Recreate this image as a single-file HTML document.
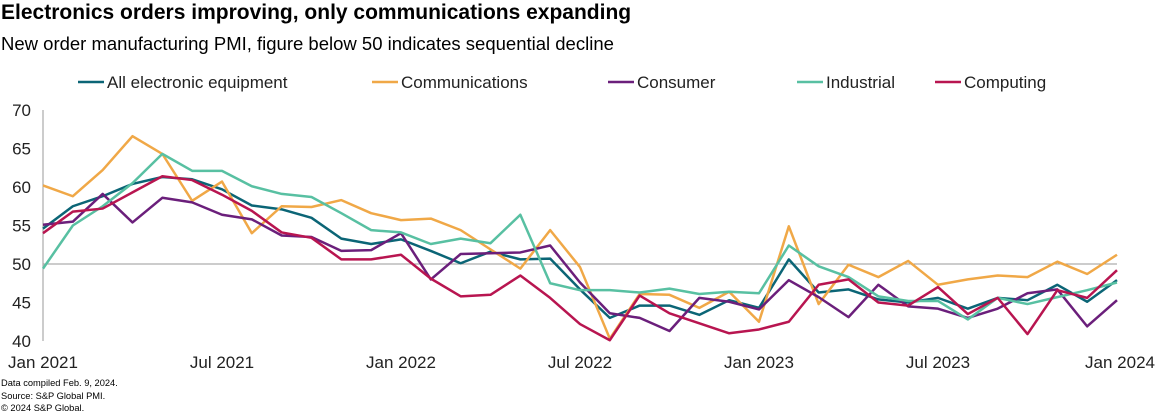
<!DOCTYPE html>
<html><head><meta charset="utf-8"><style>
body{margin:0;background:#fff;font-family:"Liberation Sans",Arial,sans-serif;}
#wrap{position:relative;width:1162px;height:417px;overflow:hidden;}
.t{position:absolute;white-space:nowrap;color:#000;}
</style></head><body>
<div id="wrap">
<div class="t" style="left:1px;top:1px;font-size:21px;font-weight:bold;">Electronics orders improving, only communications expanding</div>
<div class="t" style="left:1px;top:33px;font-size:18.5px;">New order manufacturing PMI, figure below 50 indicates sequential decline</div>
<svg id="svg" width="1162" height="417" style="position:absolute;left:0;top:0"></svg>
<div class="t" style="left:1px;top:378px;font-size:9.3px;">Data compiled Feb. 9, 2024.</div>
<div class="t" style="left:1px;top:391px;font-size:9.3px;">Source: S&amp;P Global PMI.</div>
<div class="t" style="left:1px;top:403px;font-size:9.3px;">© 2024 S&amp;P Global.</div>
</div>
<script>
const xTickLabels=["Jan 2021","Jul 2021","Jan 2022","Jul 2022","Jan 2023","Jul 2023","Jan 2024"];
const xTickMonths=[0,6,12,18,24,30,36];
const yTicks=[40,45,50,55,60,65,70];
const seriesNames=["All electronic equipment","Communications","Consumer","Industrial","Computing"];
const seriesColors=["#0b6576","#f0a847","#6b1f7b","#58c0a2","#b81550"];
const allElectronic=[54.6,57.5,58.8,60.4,61.3,61.0,59.7,57.6,57.1,56.0,53.3,52.6,53.2,51.7,50.1,51.6,50.6,50.7,46.7,43.0,44.6,44.6,43.4,45.3,44.3,50.6,46.3,46.7,45.4,45.0,45.6,44.2,45.6,45.3,47.3,45.1,47.9];
const communications=[60.2,58.8,62.2,66.6,64.3,58.2,60.7,54.0,57.5,57.4,58.3,56.6,55.7,55.9,54.4,51.9,49.4,54.4,49.6,40.3,46.1,46.0,44.3,46.4,42.5,54.9,44.8,49.9,48.3,50.4,47.3,48.0,48.5,48.3,50.3,48.7,51.2];
const consumer=[55.1,55.5,59.1,55.4,58.6,58.0,56.4,55.8,53.7,53.5,51.7,51.8,54.0,48.0,51.3,51.4,51.5,52.4,47.6,43.6,43.0,41.3,45.6,45.1,44.1,47.9,45.7,43.1,47.3,44.5,44.2,43.0,44.2,46.2,46.7,41.9,45.3];
const industrial=[49.4,55.0,57.5,60.5,64.3,62.1,62.1,60.1,59.1,58.7,56.6,54.4,54.1,52.6,53.3,52.7,56.4,47.5,46.6,46.6,46.3,46.8,46.1,46.4,46.2,52.4,49.7,48.3,45.8,45.2,45.2,42.8,45.6,44.8,45.7,46.6,47.6];
const computing=[54.0,56.8,57.2,59.3,61.4,60.9,59.0,56.9,54.1,53.4,50.6,50.6,51.2,48.1,45.8,46.0,48.5,45.6,42.2,40.1,45.9,43.6,42.3,41.0,41.5,42.5,47.3,48.0,45.0,44.6,47.0,43.5,45.6,40.9,46.6,45.6,49.2];
const allSeries=[allElectronic,communications,consumer,industrial,computing];

const svg=document.getElementById('svg');const NS="http://www.w3.org/2000/svg";
const X0=43,X1=1117,Y0=341,Y1=110,N=36;
const xs=m=>X0+(X1-X0)*m/N;
const ys=v=>Y0-(v-40)/30*(Y0-Y1);
function mk(t,a){const e=document.createElementNS(NS,t);for(const k in a)e.setAttribute(k,a[k]);svg.appendChild(e);return e;}
let ax=mk('line',{x1:X0,x2:X0,y1:Y1,y2:Y0,stroke:'#999','stroke-width':1});


let g50=mk('line',{x1:X0,x2:X1,y1:ys(50),y2:ys(50),stroke:'#999','stroke-width':1});


yTicks.forEach(v=>{const t=mk('text',{x:31,y:ys(v)+6,'text-anchor':'end','font-size':17,'font-family':'Liberation Sans, sans-serif',fill:'#222'});t.textContent=v;

});
xTickLabels.forEach((l,i)=>{let x=xs(xTickMonths[i]);let anchor='middle';if(i==xTickLabels.length-1){x=1155;anchor='end';}
const t=mk('text',{x:x,y:368,'text-anchor':anchor,'font-size':17,'font-family':'Liberation Sans, sans-serif',fill:'#222'});t.textContent=l;

});
allSeries.forEach((s,i)=>{const p=mk('polyline',{points:s.map((v,m)=>xs(m)+','+ys(v)).join(' '),fill:'none',stroke:seriesColors[i],'stroke-width':2.5,'stroke-linejoin':'round'});

});
const legX=[78,372,608,797,935];
seriesNames.forEach((n,i)=>{const l=mk('line',{x1:legX[i],x2:legX[i]+26,y1:82,y2:82,stroke:seriesColors[i],'stroke-width':2.5});


const t=mk('text',{x:legX[i]+29,y:88,'font-size':17,'font-family':'Liberation Sans, sans-serif',fill:'#222'});t.textContent=n;

});
</script>
</body></html>
